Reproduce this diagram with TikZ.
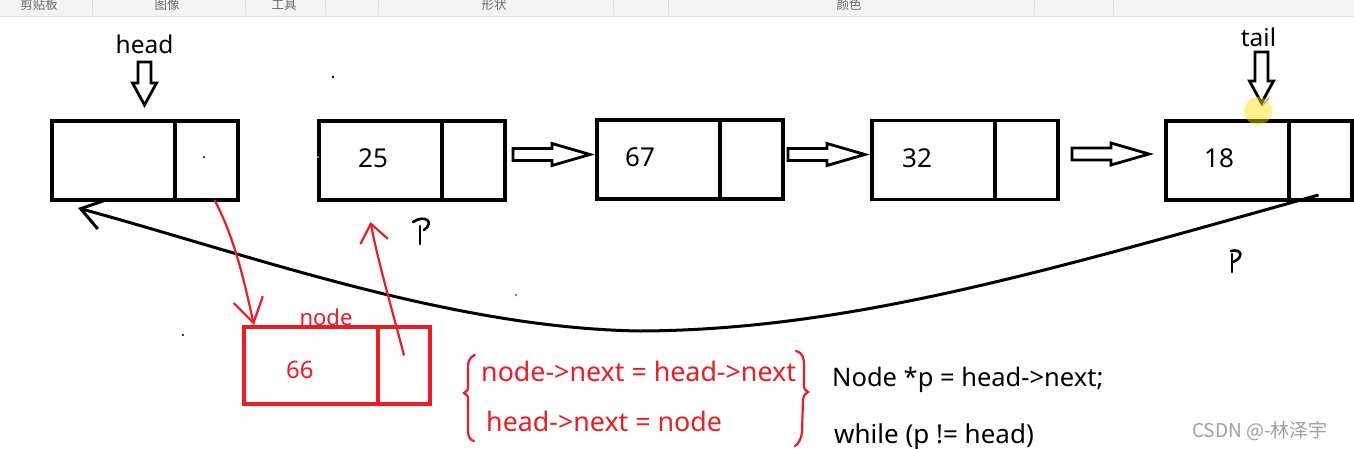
\documentclass[tikz,border=0pt]{standalone}
\usepackage{fontspec}
\setmainfont{Noto Sans}
\newfontfamily\cjk{Noto Sans CJK SC}
\usetikzlibrary{positioning,calc,arrows.meta}

\definecolor{paintred}{RGB}{237,28,36}
\definecolor{barbg}{RGB}{243,243,243}
\definecolor{barline}{RGB}{224,224,224}
\definecolor{bartext}{RGB}{105,105,105}

% полая стрелка вправо
\newcommand\harrow[2]{%
  \draw[blockarr] let \p1=(#1), \p2=(#2) in
    (\x1,\y1+6pt) -- (\x2-38pt,\y1+6pt) -- (\x2-38pt,\y1+11pt) -- (\x2,\y1)
    -- (\x2-38pt,\y1-11pt) -- (\x2-38pt,\y1-6pt) -- (\x1,\y1-6pt) -- cycle;}
% полая стрелка вниз
\newcommand\varrow[2]{%
  \draw[blockarr] let \p1=(#1), \p2=(#2) in
    (\x1-6.5pt,\y1) -- (\x1-6.5pt,\y2+22pt) -- (\x1-12pt,\y2+22pt) -- (\x1,\y2)
    -- (\x1+12pt,\y2+22pt) -- (\x1+6.5pt,\y2+22pt) -- (\x1+6.5pt,\y1) -- cycle;}

\begin{document}
\begin{tikzpicture}[
        x=1pt, y=-1pt, % координаты в пикселях
        datacell/.style = {draw, line width=3.1pt, minimum width=123pt, minimum height=79pt, inner sep=0pt, outer sep=0pt}, % поле данных
        nextcell/.style = {datacell, minimum width=63pt}, % поле next
        redcell/.style = {datacell, draw=paintred, minimum width=134pt, minimum height=77pt},
        numtext/.style = {font=\fontsize{26}{30}\selectfont, inner sep=0pt, yshift=2pt},
        lbl/.style = {font=\fontsize{24.5}{28}\selectfont, inner sep=0pt},
        code/.style = {font=\fontsize{25.5}{30}\selectfont, inner sep=0pt, anchor=base west},
        blockarr/.style = {draw, line width=2.8pt, fill=white, line join=miter},
        loopline/.style = {line width=3pt, -{Straight Barb[length=22pt,width=30pt]}},
        redarr/.style = {draw=paintred, line width=2.2pt, -{Straight Barb[length=24pt,width=30pt]}},
        hand/.style = {line width=2.6pt, line cap=round},
        bartxt/.style = {font=\cjk\fontsize{12.5}{14}\selectfont, text=bartext, inner sep=0pt},
    ]
    \useasboundingbox (0,0) rectangle (1354,448);
    \fill[white] (0,0) rectangle (1354,448);

    % панель инструментов
    \fill[barbg] (0,0) rectangle (1354,16);
    \draw[barline] (0,16) -- (1354,16);
    \foreach \sx in {92,245,325,378,613,668,1034,1113}
        \draw[barline] (\sx,0) -- (\sx,15);
    \foreach \tx/\tlabel in {39/剪贴板,167/图像,284/工具,494/形状,849/颜色}
        \node[bartxt] (bar\tx) at (\tx,5) {\tlabel};

    % узлы списка
    \node[datacell] (dhead) at (113.5,160.5) {};
    \node[nextcell, right=0pt of dhead] (xhead) {};
    \node[datacell] (d25) at (380.5,160.5) {};
    \node[nextcell, right=0pt of d25] (x25) {};
    \node[datacell] (d67) at (658.5,159.5) {};
    \node[nextcell, right=0pt of d67] (x67) {};
    \node[datacell] (d32) at (933.5,160) {};
    \node[nextcell, right=0pt of d32] (x32) {};
    \node[datacell] (d18) at (1227.5,160.5) {};
    \node[nextcell, right=0pt of d18] (x18) {};

    \node[numtext, right=39pt of d25.west] (n25) {25};
    \node[numtext, right=28pt of d67.west] (n67) {67};
    \node[numtext, right=30pt of d32.west] (n32) {32};
    \node[numtext, right=38pt of d18.west] (n18) {18};

    \node[lbl, anchor=base] (headlbl) at (144.5,53) {head};
    \node[lbl, anchor=base] (taillbl) at (1258.5,46) {tail};
    \varrow{$(headlbl.base)+(0,9)$}{$(dhead.north)+(0,-16)$}
    \varrow{$(taillbl.base)+(3,6)$}{$(d18.north)+(0,-18)$}

    \harrow{$(x25.east)+(8,-6)$}{$(d67.west)+(-7,0)$}
    \harrow{$(x67.east)+(5,-5)$}{$(d32.west)+(-7,0)$}
    \harrow{$(x32.east)+(14,-6)$}{$(d18.west)+(-17,0)$}

    % обратная ссылка на head
    \draw[loopline] ($(x18.south)+(-2,-5)$) .. controls (1050,270) and (850,330) .. (640,331)
        .. controls (450,328) and (250,255) .. ($(dhead.south west)+(26,8)$);

    % вставляемый узел
    \node[redcell] (rd) at (311,365.5) {};
    \node[redcell, minimum width=52pt, right=0pt of rd] (rx) {};
    \node[font=\fontsize{24}{28}\selectfont, text=paintred, inner sep=0pt, right=42pt of rd.west, yshift=-4.5pt] (n66) {66};
    \node[font=\fontsize{22}{26}\selectfont, text=paintred, inner sep=0pt, anchor=base] (newlbl) at (326,325) {node};

    \draw[redarr] ($(xhead.south)+(8,0)$) .. controls (236,240) and (246,290) .. ($(rd.north west)+(10,-2)$);
    \draw[redarr, -{Straight Barb[length=18pt,width=28pt]}] ($(rx.center)+(0,-10)$)
        .. controls (395,320) and (378,262) .. ($(d25.south)+(-10,22)$);

    % рукописные p
    \draw[hand] (413,222) .. controls (425,214) and (435,222) .. (424,230);
    \draw[hand] (420,226) -- (420,244);
    \draw[hand] (1231,251) .. controls (1242,248) and (1244,258) .. (1233,262);
    \draw[hand] (1232,254) -- (1232,272);

    % фигурные скобки
    \draw[paintred, line width=2.2pt, line cap=round] (475,355) .. controls (468,358) and (468,362) .. (468,372)
        -- (468,386) .. controls (468,390) .. (464,393) .. controls (468,396) .. (468,400)
        -- (468,430) .. controls (468,437) and (470,440) .. (474,441);
    \draw[paintred, line width=2.2pt, line cap=round] (796,351) .. controls (803,353) and (804,358) .. (804,366)
        -- (804,384) .. controls (804,389) .. (808,392) .. controls (804,395) .. (803,400)
        -- (802,432) .. controls (801,440) and (798,444) .. (795,446);

    \node[code, text=paintred, font=\fontsize{26.8}{30}\selectfont] (stepa) at (481,381) {node->next = head->next};
    \node[code, text=paintred, font=\fontsize{26.8}{30}\selectfont] (stepb) at (486,431) {head->next = node};
    \node[code] (declp) at (832,386) {Node *p = head->next;};
    \node[code, font=\fontsize{26}{30}\selectfont] (loopw) at (834,443) {while (p != head)};

    % точки и курсор
    \fill (333,77) circle (1.3pt);
    \fill (204,157) circle (1.2pt);
    \fill (183,335) circle (1.2pt);
    \fill[gray!50] (318,157) circle (1pt);
    \fill[paintred] (516,295) circle (1.2pt);
    \fill[yellow!85!orange, opacity=0.45] (1258,111) circle (14pt);
    \draw[gray!70, line width=1.5pt] (1262,106) -- (1269,98);

    \node[font=\cjk\fontsize{19}{21}\selectfont, text=gray!75, anchor=base west, inner sep=0pt] (mark) at (1192,437) {CSDN @-林泽宇};
\end{tikzpicture}
\end{document}
